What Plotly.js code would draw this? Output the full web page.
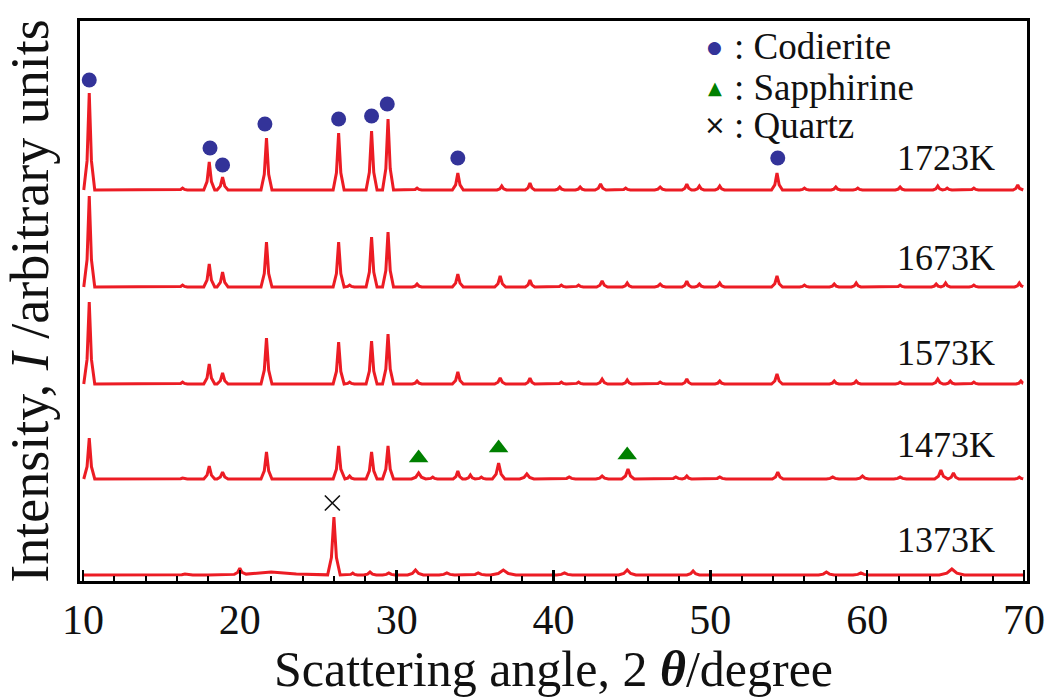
<!DOCTYPE html>
<html>
<head>
<meta charset="utf-8">
<script src="https://cdn.plot.ly/plotly-3.0.1.min.js"></script>
<style>html,body{margin:0;padding:0;background:#fff;}</style>
</head>
<body>
<div id="chart" style="width:1051px;height:697px;"></div>
<script>
// ---- Data (intensity in arbitrary units, patterns offset vertically) ----
const temperatures = ["1723K", "1673K", "1573K", "1473K", "1373K"];
const baselines = [391, 294, 197, 102, 6];          // vertical offset of each pattern
const labelY = [423, 323, 228, 136, 41];            // y of the temperature labels

// peaks: [2theta (deg), height (a.u.), half-base width (deg)]
const peaks1723 = [[10.4,97,0.35],[16.35,2,0.3],[18.05,28,0.35],[18.9,13,0.35],[21.7,52,0.35],[26.3,57,0.35],[28.4,59,0.35],[29.45,71,0.35],[31.3,2,0.3],[33.9,17,0.35],[36.7,4,0.3],[38.5,7,0.3],[40.4,3,0.3],[41.7,3,0.3],[43.0,6,0.35],[44.6,2,0.3],[46.8,3,0.35],[48.5,6,0.3],[49.3,4,0.3],[50.6,4,0.3],[54.25,17,0.35],[56.0,2,0.3],[58.0,3,0.3],[59.4,2,0.3],[62.1,3,0.3],[64.5,4,0.3],[65.1,2,0.3],[66.8,2,0.3],[69.6,5,0.3]];
const peaks1673 = [[10.4,91,0.35],[16.35,2,0.3],[18.05,23,0.35],[18.9,15,0.35],[21.7,45,0.35],[26.3,45,0.35],[27.0,2,0.3],[28.4,50,0.35],[29.45,55,0.35],[31.3,3,0.3],[33.9,13,0.35],[36.6,11,0.35],[38.5,7,0.3],[40.5,2,0.3],[41.6,2,0.3],[43.1,6,0.35],[44.7,4,0.3],[46.8,3,0.35],[48.5,6,0.3],[49.3,3,0.3],[50.6,4,0.3],[54.25,11,0.35],[56.0,2,0.3],[57.9,3,0.3],[59.3,4,0.3],[62.1,2,0.3],[64.4,3,0.3],[65.0,4,0.3],[66.8,2,0.3],[69.7,4,0.3]];
const peaks1573 = [[10.4,82,0.35],[16.35,2,0.3],[18.05,20,0.35],[18.9,11,0.35],[21.7,46,0.35],[26.3,42,0.35],[27.0,2,0.3],[28.4,43,0.35],[29.45,50,0.35],[31.3,3,0.3],[33.9,12,0.35],[36.6,6,0.35],[38.5,6,0.3],[40.5,2,0.3],[41.6,2,0.3],[43.1,5,0.35],[44.7,4,0.3],[46.8,2,0.35],[48.5,5,0.3],[50.6,3,0.3],[54.25,10,0.35],[57.9,3,0.3],[59.3,3,0.3],[62.1,2,0.3],[64.5,5,0.35],[65.3,3,0.3],[66.8,2,0.3],[69.8,3,0.3]];
const peaks1473 = [[10.4,41,0.35],[16.35,1,0.3],[18.05,13,0.35],[18.9,7,0.35],[21.7,27,0.35],[26.3,33,0.35],[27.0,3,0.3],[28.4,27,0.35],[29.45,33,0.35],[31.4,6,0.45],[32.3,2,0.3],[33.9,8,0.3],[34.7,4,0.3],[35.4,2,0.3],[36.5,16,0.4],[38.3,5,0.45],[41.0,2,0.4],[43.1,3,0.4],[44.75,10,0.4],[47.8,2,0.4],[48.5,3,0.3],[50.6,2,0.4],[54.3,7,0.35],[57.8,2,0.4],[59.7,3,0.4],[62.1,2,0.4],[64.7,9,0.4],[65.5,6,0.35],[69.7,2,0.3]];
const peaks1373 = [[16.5,1,0.5],[22.0,3,4.0],[20.0,6,0.35],[26.0,58,0.4],[27.2,2,0.3],[28.3,3,0.4],[29.5,2,0.4],[31.2,5,0.5],[33.2,2,0.5],[35.2,2,0.5],[36.8,5,0.8],[40.7,2,0.5],[44.7,5,0.55],[48.9,4,0.4],[57.4,3,0.5],[59.6,2,0.5],[65.4,6,0.8]];
const patterns = [peaks1723, peaks1673, peaks1573, peaks1473, peaks1373];

// phase markers
const codieriteX = [10.4, 18.1, 18.9, 21.6, 26.3, 28.4, 29.4, 33.9, 54.3];
const codieriteY = [501, 433, 416, 457, 462, 465, 477, 423, 423];
const sapphirineX = [31.4, 36.5, 44.7];
const sapphirineY = [123, 133, 126];
const quartzX = [25.9];
const quartzY = [78];

// legend key texts
const legendNames = [": Codierite", ": Sapphirine", ": Quartz"];
const legendSymbols = ["●", "▲", "×"];
const legendColors = ["#333399", "#008000", "#111111"];

const xTickVals = [10, 20, 30, 40, 50, 60, 70];
const xStart = 10.05, xEnd = 69.95;

// ---- build each trace's polyline from its peak table ----
function peakShape(x, p) {
  const d = Math.abs(x - p[0]), w = p[2], s = w / 2.5;
  if (d >= w) return 0;
  if (d <= s) return p[1] * (1 - 0.7 * d / s);
  return p[1] * 0.3 * (w - d) / (w - s);
}
function buildLine(peaks, base) {
  const xs = new Set([xStart, xEnd]);
  peaks.forEach(p => {
    const w = p[2], s = w / 2.5;
    [p[0] - w, p[0] - s, p[0], p[0] + s, p[0] + w].forEach(v => {
      if (v >= xStart && v <= xEnd) xs.add(+v.toFixed(4));
    });
  });
  const xa = Array.from(xs).sort((a, b) => a - b);
  const ya = xa.map(x => base + peaks.reduce((acc, p) => acc + peakShape(x, p), 0));
  return {x: xa, y: ya};
}

const RED = '#ec1c24';
const serif = 'Liberation Serif, Times New Roman, serif';
const traces = [];
patterns.forEach((pk, i) => {
  const l = buildLine(pk, baselines[i]);
  traces.push({type: 'scatter', mode: 'lines', x: l.x, y: l.y, name: temperatures[i],
    line: {color: RED, width: 3}, showlegend: false, hoverinfo: 'skip'});
});
traces.push({type: 'scatter', mode: 'markers', x: codieriteX, y: codieriteY, name: 'Codierite', showlegend: false,
  marker: {symbol: 'circle', size: 15, color: '#333399'}});
traces.push({type: 'scatter', mode: 'markers', x: sapphirineX, y: sapphirineY, name: 'Sapphirine', showlegend: false,
  marker: {symbol: 'triangle-up', size: 17, color: '#008000'}});
traces.push({type: 'scatter', mode: 'markers', x: quartzX, y: quartzY, name: 'Quartz', showlegend: false,
  marker: {symbol: 'x-thin', size: 15, line: {width: 1.6, color: '#111'}}});

const annotations = temperatures.map((t, i) => ({
  x: 68.3, y: labelY[i], xref: 'x', yref: 'y', text: t, showarrow: false,
  xanchor: 'right', yanchor: 'middle', font: {family: serif, size: 36, color: '#111'}
}));
// legend box (text keys, top right)
const legRowY = [0.9536, 0.882, 0.814];
const symSizes = [17, 18, 26];
legendNames.forEach((n, i) => {
  annotations.push({x: 0.6705, y: legRowY[i], xref: 'paper', yref: 'paper', showarrow: false,
    xanchor: 'center', yanchor: 'middle', text: legendSymbols[i],
    font: {family: 'DejaVu Sans', size: symSizes[i], color: legendColors[i]}});
  annotations.push({x: 0.6885, y: legRowY[i], xref: 'paper', yref: 'paper', showarrow: false,
    xanchor: 'left', yanchor: 'middle', text: n,
    font: {family: serif, size: 37, color: '#111'}});
});

const layout = {
  width: 1051, height: 697,
  margin: {l: 80, r: 24, t: 21, b: 116},
  paper_bgcolor: '#fff', plot_bgcolor: '#fff',
  showlegend: false,
  xaxis: {
    range: [9.81, 70.19], showline: true, mirror: true, linewidth: 3, linecolor: '#000',
    showgrid: false, zeroline: false,
    tickmode: 'array', tickvals: xTickVals, ticks: 'inside', ticklen: 11, tickwidth: 2.5, tickcolor: '#000',
    minor: {dtick: 2, tick0: 10, ticks: 'inside', ticklen: 5, tickwidth: 2, tickcolor: '#000'},
    tickfont: {family: serif, size: 42, color: '#111'},
    ticklabelstandoff: 0,
    title: {text: 'Scattering angle, 2 <b><i>θ</i></b>/degree', font: {family: serif, size: 50, color: '#111'}, standoff: 24}
  },
  yaxis: {
    range: [0, 560], showline: true, mirror: true, linewidth: 3, linecolor: '#000',
    showgrid: false, zeroline: false, ticks: '', showticklabels: false,
    title: {text: 'Intensity, <i>I</i> /arbitrary units', font: {family: serif, size: 54, color: '#111'}, standoff: 28}
  },
  annotations: annotations
};

Plotly.newPlot('chart', traces, layout, {displayModeBar: false, staticPlot: true});
</script>
</body>
</html>
